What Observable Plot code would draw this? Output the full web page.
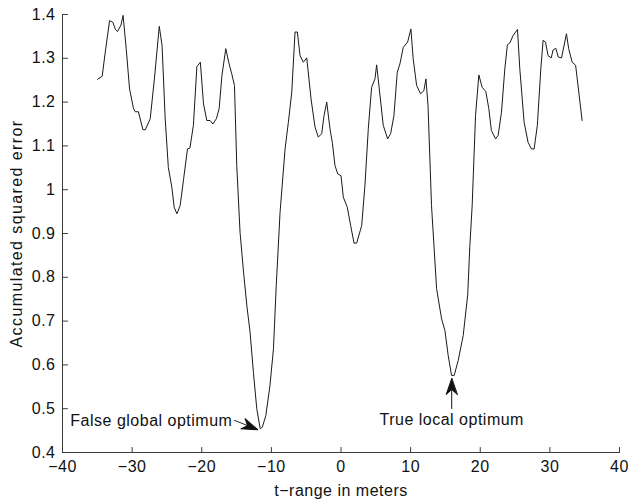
<!DOCTYPE html>
<html>
<head>
<meta charset="utf-8">
<script src="https://cdn.jsdelivr.net/npm/d3@7"></script>
<script src="https://cdn.jsdelivr.net/npm/@observablehq/plot@0.6"></script>
<style>
  html, body { margin: 0; padding: 0; background: #fff; }
  #chart svg text { letter-spacing: 0.5px; }
</style>
</head>
<body>
<div id="chart"></div>
<script>
// ---- data ----
const tRange = [
  -34.96, -34.3, -33.86, -33.24, -32.76, -32.4, -32.1, -31.6, -31.3, -30.85,
  -30.37, -29.8, -29.55, -29.1, -28.45, -28.1, -27.4, -26.8, -26.1, -25.7,
  -25.25, -24.8, -24.3, -23.96, -23.57, -23.1, -22.6, -22.05, -21.7, -21.2,
  -20.7, -20.2, -19.75, -19.27, -18.8, -18.4, -17.9, -17.5, -17.1, -16.55,
  -16.07, -15.7, -15.3, -14.97, -14.5, -14.0, -13.5, -13.06, -12.58, -12.1,
  -11.6, -11.3, -10.8, -10.2, -9.7, -9.3, -8.75, -8.03, -7.56, -7.07,
  -6.6, -6.27, -5.88, -5.4, -4.92, -4.3, -3.73, -3.26, -2.77, -2.44,
  -2.05, -1.58, -1.25, -0.86, -0.47, 0.0, 0.33, 0.9, 1.39, 1.87,
  2.25, 2.97, 3.44, 3.92, 4.4, 4.88, 5.12, 5.5, 6.07, 6.7,
  7.13, 7.6, 8.08, 8.46, 8.94, 9.57, 10.04, 10.37, 10.86, 11.43,
  11.9, 12.2, 12.5, 13.0, 13.73, 14.45, 14.92, 15.4, 15.88, 16.26,
  16.83, 17.55, 18.2, 18.5, 18.84, 19.32, 19.8, 20.27, 20.8, 21.23,
  21.6, 22.2, 22.57, 23.05, 23.53, 23.9, 24.25, 24.72, 25.35, 25.68,
  26.3, 26.87, 27.36, 27.74, 28.2, 28.7, 29.03, 29.37, 29.75, 30.2,
  30.46, 30.85, 31.2, 31.67, 32.14, 32.38, 32.7, 33.2, 33.7, 34.63
];
const squaredError = [
  1.252, 1.259, 1.314, 1.386, 1.382, 1.366, 1.361, 1.376, 1.398, 1.322,
  1.230, 1.185, 1.178, 1.178, 1.137, 1.137, 1.162, 1.253, 1.373, 1.329,
  1.162, 1.051, 1.006, 0.960, 0.945, 0.964, 1.025, 1.093, 1.095, 1.147,
  1.281, 1.291, 1.196, 1.158, 1.158, 1.150, 1.162, 1.185, 1.261, 1.322,
  1.287, 1.265, 1.238, 1.055, 0.903, 0.812, 0.732, 0.675, 0.583, 0.500,
  0.454, 0.458, 0.484, 0.553, 0.637, 0.781, 0.949, 1.093, 1.154, 1.223,
  1.360, 1.360, 1.306, 1.291, 1.301, 1.207, 1.143, 1.120, 1.128, 1.169,
  1.200, 1.139, 1.108, 1.055, 1.036, 1.032, 0.983, 0.960, 0.918, 0.878,
  0.878, 0.918, 1.010, 1.139, 1.234, 1.253, 1.285, 1.230, 1.147, 1.116,
  1.128, 1.169, 1.268, 1.287, 1.325, 1.337, 1.367, 1.299, 1.238, 1.219,
  1.226, 1.253, 1.192, 0.964, 0.774, 0.705, 0.679, 0.621, 0.576, 0.576,
  0.610, 0.667, 0.760, 0.870, 0.964, 1.169, 1.262, 1.234, 1.224, 1.185,
  1.135, 1.116, 1.124, 1.177, 1.276, 1.331, 1.335, 1.352, 1.366, 1.276,
  1.154, 1.108, 1.093, 1.093, 1.147, 1.276, 1.341, 1.337, 1.306, 1.301,
  1.319, 1.323, 1.303, 1.301, 1.337, 1.356, 1.322, 1.291, 1.284, 1.158
];
const xTicks = [-40, -30, -20, -10, 0, 10, 20, 30, 40];
const xTickLabels = ["\u221240", "\u221230", "\u221220", "\u221210", "0", "10", "20", "30", "40"];
const yTicks = [0.4, 0.5, 0.6, 0.7, 0.8, 0.9, 1.0, 1.1, 1.2, 1.3, 1.4];
const yTickLabels = ["0.4", "0.5", "0.6", "0.7", "0.8", "0.9", "1", "1.1", "1.2", "1.3", "1.4"];
const xLabel = "t\u2212range in meters";
const yLabel = "Accumulated squared error";

// annotations (data coordinates)
const falseLabel = "False global optimum";
const falseLabelX = -15.6;
const falseLabelY = 0.473;
const falseTipX = -11.95;
const falseTipY = 0.452;
const trueLabel = "True local optimum";
const trueLabelX = 15.9;
const trueLabelY = 0.475;
const trueTipX = 15.9;
const trueTipY = 0.569;

// ---- build ----
const series = tRange.map((t, i) => ({t, e: squaredError[i]}));

const dart = {
  draw(context, l) {
    const h = 16, w = 5.5, n = 11;
    context.moveTo(0, 0);
    context.lineTo(0, -l + n);
    context.moveTo(0, -l);
    context.lineTo(-w, -l + h);
    context.lineTo(0, -l + n);
    context.lineTo(w, -l + h);
    context.closePath();
  }
};
const tickLine = {
  draw(context, l) { context.moveTo(0, 0); context.lineTo(0, -l); }
};

const font = "'Liberation Sans', Arial, Helvetica, sans-serif";
const axisColor = "#3a3a3a";
const textColor = "#111";
const fs = 16;

const chart = Plot.plot({
  width: 631,
  height: 502,
  marginLeft: 62,
  marginRight: 12,
  marginTop: 14,
  marginBottom: 50,
  style: {fontFamily: font, fontSize: fs + "px", background: "#fff", color: textColor},
  x: {domain: [xTicks[0], xTicks[xTicks.length - 1]]},
  y: {domain: [yTicks[0], yTicks[yTicks.length - 1]]},
  marks: [
    Plot.axisX({
      ticks: xTicks, tickSize: 0, tickPadding: 8, fontSize: fs,
      tickFormat: (d) => xTickLabels[xTicks.indexOf(d)],
      fill: textColor, label: null
    }),
    Plot.axisY({
      ticks: yTicks, tickSize: 0, tickPadding: 7, fontSize: fs,
      tickFormat: (d) => yTickLabels[yTicks.findIndex((v) => Math.abs(v - d) < 1e-9)],
      fill: textColor, label: null
    }),
    // inward tick marks
    Plot.vector(xTicks, {x: (d) => d, y: yTicks[0], length: 5, anchor: "start",
      shape: tickLine, stroke: axisColor, strokeWidth: 1}),
    Plot.vector(yTicks, {x: xTicks[0], y: (d) => d, rotate: 90, length: 5, anchor: "start",
      shape: tickLine, stroke: axisColor, strokeWidth: 1}),
    Plot.ruleX([xTicks[0]], {stroke: axisColor, strokeWidth: 1}),
    Plot.ruleY([yTicks[0]], {stroke: axisColor, strokeWidth: 1}),
    Plot.line(series, {x: "t", y: "e", stroke: "#1a1a1a", strokeWidth: 1}),
    // arrows
    Plot.vector([{x: falseTipX, y: falseTipY}], {x: "x", y: "y", rotate: 112, length: 25,
      anchor: "end", shape: dart, stroke: textColor, fill: textColor, strokeWidth: 1}),
    Plot.vector([{x: trueTipX, y: trueTipY}], {x: "x", y: "y", rotate: 0, length: 30,
      anchor: "end", shape: dart, stroke: textColor, fill: textColor, strokeWidth: 1}),
    // annotation labels
    Plot.text([falseLabel], {x: falseLabelX, y: falseLabelY, textAnchor: "end",
      fontSize: fs, fill: textColor}),
    Plot.text([trueLabel], {x: trueLabelX, y: trueLabelY, textAnchor: "middle",
      fontSize: fs, fill: textColor}),
    // axis titles
    Plot.text([xLabel], {frameAnchor: "bottom", lineAnchor: "middle", textAnchor: "middle",
      dy: 38, fontSize: fs, fill: textColor}),
    Plot.text([yLabel], {frameAnchor: "left", lineAnchor: "middle", textAnchor: "middle",
      rotate: -90, dx: -46, fontSize: fs, fill: textColor})
  ]
});
document.getElementById("chart").appendChild(chart);
d3.select(chart).selectAll("text")
  .filter(function () { return this.textContent === yLabel; })
  .style("letter-spacing", "1.4px");
</script>
</body>
</html>
